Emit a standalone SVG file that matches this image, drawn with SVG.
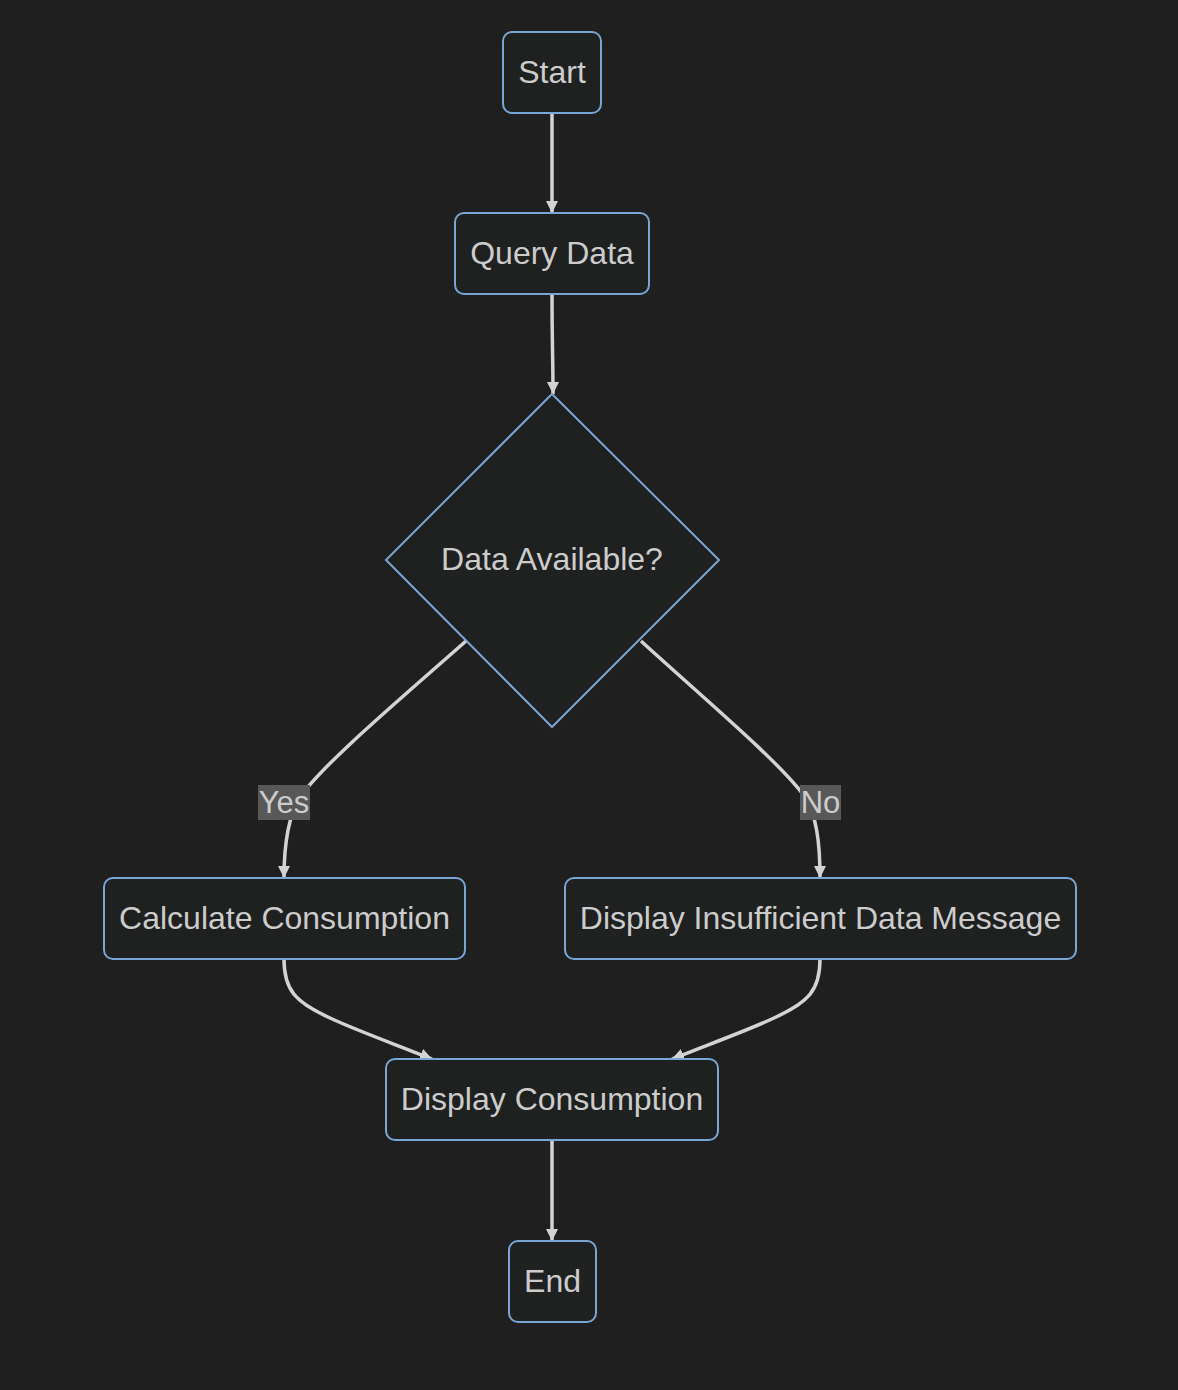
<svg xmlns="http://www.w3.org/2000/svg" width="1178" height="1390" viewBox="0 0 1178 1390">
<defs>
<style>
.node rect, .node polygon { fill: #1f2020; stroke: #79a6d5; stroke-width: 2; }
.node text { fill: #cccccc; font-family: "Liberation Sans", Arial, sans-serif; font-size: 32px; text-anchor: middle; }
.edge { fill: none; stroke: #d3d3d3; stroke-width: 3.5; marker-end: url(#arrow); }
.lbl rect { fill: #585858; }
.lbl text { fill: #cccccc; font-family: "Liberation Sans", Arial, sans-serif; font-size: 31px; text-anchor: middle; }
</style>
<marker id="arrow" markerUnits="userSpaceOnUse" markerWidth="14" markerHeight="12" refX="12" refY="6" orient="auto">
<path d="M0,0 L12,6 L0,12 Z" fill="#d3d3d3"/>
</marker>
</defs>
<rect x="0" y="0" width="1178" height="1390" fill="#1f1f1f"/>
<g id="edges">
<path class="edge" d="M552,113 L552,213"/>
<path class="edge" d="M552,294 C552,340 553,360 553,394"/>
<path class="edge" d="M466,641 C405,695 325,762 300,797 C289,815 284,840 284,878"/>
<path class="edge" d="M641,641 C700,695 780,762 805,797 C816,815 820,840 820,878"/>
<path class="edge" d="M284,959 C284,990 295,1002 330,1018 C360,1032 400,1046 432,1059"/>
<path class="edge" d="M820,959 C820,990 809,1002 774,1018 C744,1032 704,1046 672,1059"/>
<path class="edge" d="M552,1140 L552,1241"/>
</g>
<g id="label-yes" class="lbl">
<rect x="258" y="785" width="52" height="35"/>
<text x="284" y="813">Yes</text>
</g>
<g id="label-no" class="lbl">
<rect x="800" y="785" width="41" height="35"/>
<text x="820.5" y="813">No</text>
</g>
<g id="start" class="node">
<rect x="503" y="32" width="98" height="81" rx="9"/>
<text x="552" y="83">Start</text>
</g>
<g id="query" class="node">
<rect x="455" y="213" width="194" height="81" rx="9"/>
<text x="552" y="264">Query Data</text>
</g>
<g id="decision" class="node">
<polygon points="552,394 719,560 552,727 386,560"/>
<text x="552" y="570">Data Available?</text>
</g>
<g id="calc" class="node">
<rect x="104" y="878" width="361" height="81" rx="9"/>
<text x="284.5" y="929">Calculate Consumption</text>
</g>
<g id="insufficient" class="node">
<rect x="565" y="878" width="511" height="81" rx="9"/>
<text x="820.5" y="929">Display Insufficient Data Message</text>
</g>
<g id="display" class="node">
<rect x="386" y="1059" width="332" height="81" rx="9"/>
<text x="552" y="1110">Display Consumption</text>
</g>
<g id="end" class="node">
<rect x="509" y="1241" width="87" height="81" rx="9"/>
<text x="552.5" y="1292">End</text>
</g>
</svg>
